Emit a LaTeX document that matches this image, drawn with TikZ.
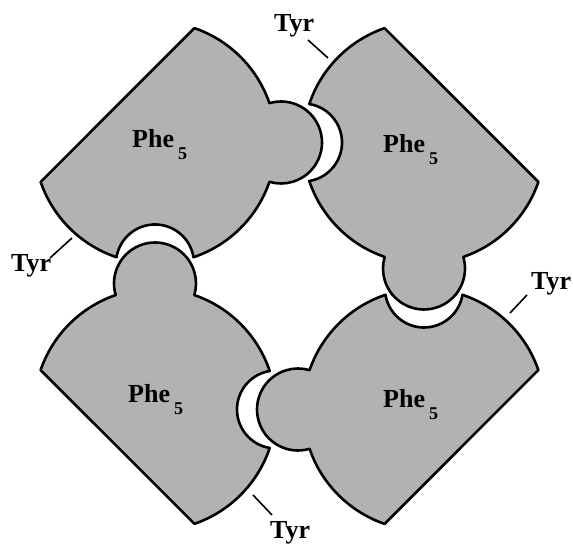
\documentclass[tikz,border=0pt]{standalone}
\usepackage{fontspec}
\setmainfont{Liberation Serif}
\begin{document}
\begin{tikzpicture}[x=1pt,y=1pt,
  piecestyle/.style={fill=black!30, draw=black, line width=2.6pt, line join=round},
  phe/.style={font=\fontsize{26}{26}\selectfont\bfseries, anchor=base west, inner sep=0pt},
  tyr/.style={font=\fontsize{26}{26}\selectfont\bfseries, anchor=base west, inner sep=0pt},
  tyrline/.style={draw=black, line width=1.6pt},
  piece/.pic={
    \path[piecestyle] (70.97:121pt)
      arc[start angle=70.97, end angle=18.97, radius=121pt]
      arc[start angle=106.39, end angle=-106.39, radius=41pt]
      arc[start angle=-18.97, end angle=-71.44, radius=121pt]
      arc[start angle=9.28, end angle=170.72, radius=39pt]
      arc[start angle=-108.56, end angle=-160.97, radius=121pt]
      -- cycle;
  }
]
\useasboundingbox (0,0) rectangle (573,545);
\newcommand{\pheLabel}{Phe\kern4pt\raisebox{-12pt}{\fontsize{18}{18}\selectfont 5}}

\pic[rotate=0]   (pTL) at (155,402.5) {piece};
\pic[rotate=-90] (pTR) at (424,402.5) {piece};
\pic[rotate=90]  (pBL) at (155,135.5) {piece};
\pic[rotate=180] (pBR) at (424,135.5) {piece};

\node[phe] (pheTL) at (132,397) {\pheLabel};
\node[phe] (pheTR) at (383,392) {\pheLabel};
\node[phe] (pheBL) at (128,142) {\pheLabel};
\node[phe] (pheBR) at (383,137) {\pheLabel};

\node[tyr] (tyrT) at (274,513) {Tyr};
\node[tyr] (tyrL) at (11,273) {Tyr};
\node[tyr] (tyrR) at (531,255) {Tyr};
\node[tyr] (tyrB) at (270,6) {Tyr};

\coordinate (tTa) at (308,505); \coordinate (tTb) at (328,487);
\coordinate (tLa) at (50,287);  \coordinate (tLb) at (72,307);
\coordinate (tRa) at (527,250); \coordinate (tRb) at (510,232);
\coordinate (tBa) at (272,30);  \coordinate (tBb) at (253,50);
\draw[tyrline] (tTa) -- (tTb);
\draw[tyrline] (tLa) -- (tLb);
\draw[tyrline] (tRa) -- (tRb);
\draw[tyrline] (tBa) -- (tBb);
\end{tikzpicture}
\end{document}
